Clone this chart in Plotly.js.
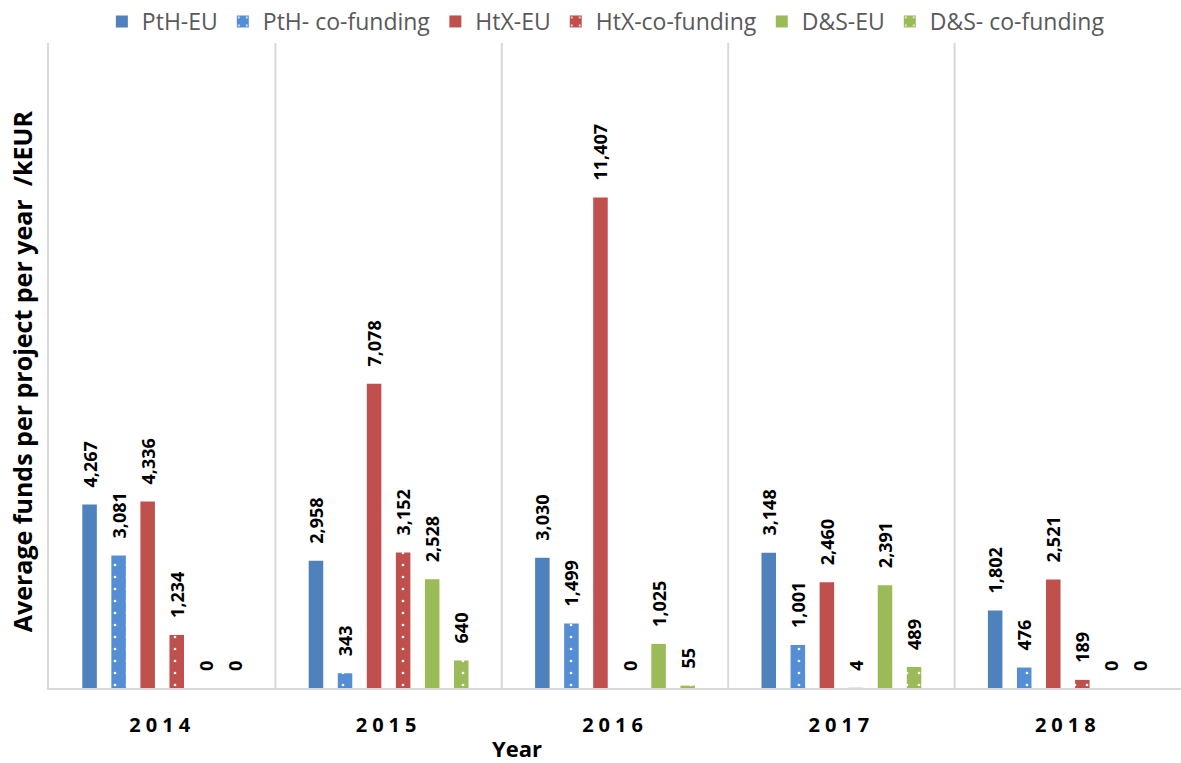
<!DOCTYPE html>
<html>
<head>
<meta charset="utf-8">
<script src="https://cdn.plot.ly/plotly-3.0.1.min.js"></script>
<style>
  html, body { margin: 0; padding: 0; background: #fff; }
  #chart { width: 1181px; height: 763px; }
  .xtick text { letter-spacing: 5px; }
</style>
</head>
<body>
<div id="chart"></div>
<script>
const years = ['2014', '2015', '2016', '2017', '2018'];
const seriesNames = ['PtH-EU', 'PtH- co-funding', 'HtX-EU', 'HtX-co-funding', 'D&S-EU', 'D&S- co-funding'];
const pthEU = [4267, 2958, 3030, 3148, 1802];
const pthCo = [3081, 343, 1499, 1001, 476];
const htxEU = [4336, 7078, 11407, 2460, 2521];
const htxCo = [1234, 3152, 0, 4, 189];
const dsEU = [0, 2528, 1025, 2391, 0];
const dsCo = [0, 640, 55, 489, 0];
const yTitle = 'Average funds per project per year  /kEUR';
const xTitle = 'Year';

const seriesValues = [pthEU, pthCo, htxEU, htxCo, dsEU, dsCo];
const colors = ['#4F81BD', '#558ED5', '#C0504D', '#C0504D', '#9BBB59', '#9BBB59'];
const dotted = [false, true, false, true, false, true];

const traces = seriesValues.map((vals, i) => {
  const marker = { color: colors[i], line: { width: 0 } };
  if (dotted[i]) {
    marker.pattern = { shape: '.', fillmode: 'replace', bgcolor: colors[i], fgcolor: '#FFFFFF', size: 12, solidity: 0.04 };
  }
  return {
    type: 'bar',
    name: seriesNames[i],
    x: years,
    y: vals,
    marker: marker,
    texttemplate: '\u00a0\u00a0\u00a0%{y:,}',
    textposition: 'outside',
    textangle: -90,
    constraintext: 'none',
    cliponaxis: false,
    textfont: { family: 'Open Sans, sans-serif', size: 18, color: '#000000', weight: 'bold' },
    hoverinfo: 'x+y+name'
  };
});

const shapes = [0.5, 1.5, 2.5, 3.5].map(xv => ({
  type: 'line', xref: 'x', yref: 'paper', x0: xv, x1: xv, y0: 0, y1: 1,
  line: { color: '#D9D9D9', width: 2 }, layer: 'below'
}));

const layout = {
  width: 1181, height: 763,
  margin: { l: 49, r: 0, t: 43, b: 75 },
  paper_bgcolor: '#FFFFFF', plot_bgcolor: '#FFFFFF',
  barmode: 'group', bargap: 0.23, bargroupgap: 0.5,
  font: { family: 'Open Sans, sans-serif', color: '#000000' },
  showlegend: true,
  legend: {
    orientation: 'h', x: 0.513, xanchor: 'center', xref: 'container',
    y: 1.0, yanchor: 'top', yref: 'container',
    font: { family: 'Open Sans, sans-serif', size: 23, color: '#595959' },
    itemwidth: 30, tracegroupgap: 0, traceorder: 'normal'
  },
  xaxis: {
    type: 'category', range: [-0.5, 4.5],
    showline: true, linecolor: '#D9D9D9', linewidth: 2,
    showgrid: false, ticks: '', zeroline: false,
    ticklabelstandoff: 18,
    tickfont: { family: 'Open Sans, sans-serif', size: 20, color: '#000000', weight: 'bold' }
  },
  yaxis: {
    range: [0, 15000],
    showline: true, linecolor: '#D9D9D9', linewidth: 2,
    showgrid: false, zeroline: false, showticklabels: false, ticks: ''
  },
  annotations: [
    {
      text: xTitle, xref: 'paper', yref: 'paper', x: 0.413, y: -0.093, xanchor: 'center', yanchor: 'middle',
      showarrow: false, font: { family: 'Open Sans, sans-serif', size: 22, color: '#000000', weight: 'bold' }
    },
    {
      text: yTitle, xref: 'paper', yref: 'paper', x: -0.0239, y: 0.491, xanchor: 'center', yanchor: 'middle',
      textangle: -90, showarrow: false, font: { family: 'Open Sans, sans-serif', size: 25, color: '#000000', weight: 'bold' }
    }
  ],
  shapes: shapes
};

Plotly.newPlot('chart', traces, layout, { displayModeBar: false, staticPlot: true });
</script>
</body>
</html>
